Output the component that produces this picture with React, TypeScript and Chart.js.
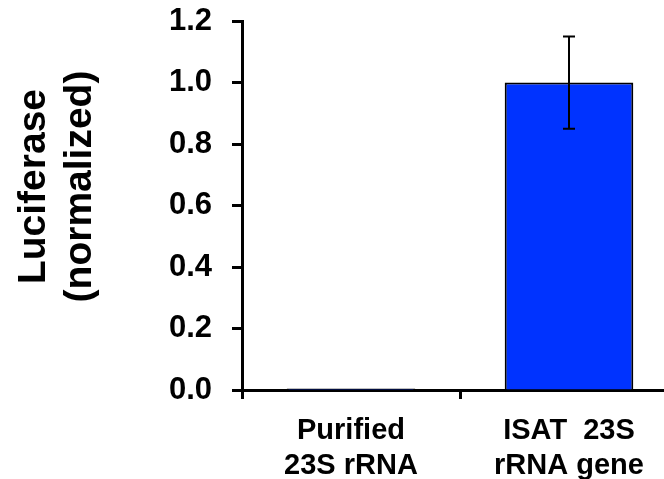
import React, { useEffect, useRef } from "react";
import { Chart, registerables } from "chart.js";

Chart.register(...registerables);

const categories: string[][] = [
  ["Purified", "23S rRNA"],
  ["ISAT  23S", "rRNA gene"],
];
const values: number[] = [0.005, 1.0];
const errors: number[] = [0, 0.15];
const yTitleLines: string[] = ["Luciferase", "(normalized)"];
const yMin = 0;
const yMax = 1.2;
const yStep = 0.2;

const FONT = "'Liberation Sans', Arial, Helvetica, sans-serif";

const errorBarPlugin = {
  id: "errorBars",
  afterDatasetsDraw(chart: any) {
    const ctx = chart.ctx;
    const meta = chart.getDatasetMeta(0);
    const y = chart.scales.y;
    ctx.save();
    ctx.strokeStyle = "#000";
    ctx.lineWidth = 2;
    meta.data.forEach((bar: any, i: number) => {
      const e = errors[i];
      if (!e) return;
      const v = values[i];
      const x = bar.x;
      const yTop = y.getPixelForValue(v + e);
      const yBot = y.getPixelForValue(v - e);
      ctx.beginPath();
      ctx.moveTo(x, yTop);
      ctx.lineTo(x, yBot);
      ctx.moveTo(x - 6, yTop);
      ctx.lineTo(x + 6, yTop);
      ctx.moveTo(x - 6, yBot);
      ctx.lineTo(x + 6, yBot);
      ctx.stroke();
    });
    ctx.restore();
  },
};

const yTitlePlugin = {
  id: "yTitle",
  afterDraw(chart: any) {
    const ctx = chart.ctx;
    ctx.save();
    ctx.fillStyle = "#000";
    ctx.font = `bold 39px ${FONT}`;
    ctx.textAlign = "center";
    ctx.textBaseline = "alphabetic";
    const baselines = [45, 91];
    const cy = 186.5;
    yTitleLines.forEach((t, i) => {
      ctx.save();
      ctx.translate(baselines[i], cy);
      ctx.rotate(-Math.PI / 2);
      ctx.fillText(t, 0, 0);
      ctx.restore();
    });
    ctx.restore();
  },
};

export default function App() {
  const ref = useRef<HTMLCanvasElement | null>(null);
  useEffect(() => {
    if (!ref.current) return;
    const chart = new Chart(ref.current, {
      type: "bar",
      data: {
        labels: categories,
        datasets: [
          {
            data: values,
            backgroundColor: "#0033ff",
            borderColor: "#000",
            borderWidth: 2,
            barPercentage: 0.59,
            categoryPercentage: 1,
          },
        ],
      },
      options: {
        animation: false,
        responsive: false,
        devicePixelRatio: 1,
        layout: { padding: { top: 21, right: 22, left: 0, bottom: 0 } },
        plugins: {
          legend: { display: false },
          tooltip: { enabled: false },
        },
        scales: {
          x: {
            offset: true,
            grid: {
              offset: true,
              drawOnChartArea: false,
              drawTicks: true,
              tickLength: 9,
              tickWidth: 3,
              tickColor: "#000",
            },
            border: { color: "#000", width: 3 },
            ticks: {
              color: "#000",
              font: { family: FONT, size: 29, weight: "bold", lineHeight: 1.22 },
              padding: 14,
              maxRotation: 0,
              autoSkip: false,
            },
            afterFit(scale: any) {
              scale.height = 89;
            },
          },
          y: {
            min: yMin,
            max: yMax,
            grid: {
              drawOnChartArea: false,
              drawTicks: true,
              tickLength: 10,
              tickWidth: 3,
              tickColor: "#000",
            },
            border: { color: "#000", width: 3 },
            ticks: {
              stepSize: yStep,
              color: "#000",
              padding: 20,
              font: { family: FONT, size: 31, weight: "bold" },
              callback: (v: any) => Number(v).toFixed(1),
            },
            afterFit(scale: any) {
              scale.width = 242;
              scale.paddingTop = 0;
              scale.paddingBottom = 0;
            },
          },
        },
      },
      plugins: [errorBarPlugin, yTitlePlugin],
    });
    return () => chart.destroy();
  }, []);
  return (
    <div
      style={{
        position: "fixed",
        left: 0,
        top: 0,
        width: 664,
        height: 479,
        overflow: "hidden",
        background: "#fff",
      }}
    >
      <canvas ref={ref} width={700} height={479} style={{ display: "block" }} />
    </div>
  );
}
